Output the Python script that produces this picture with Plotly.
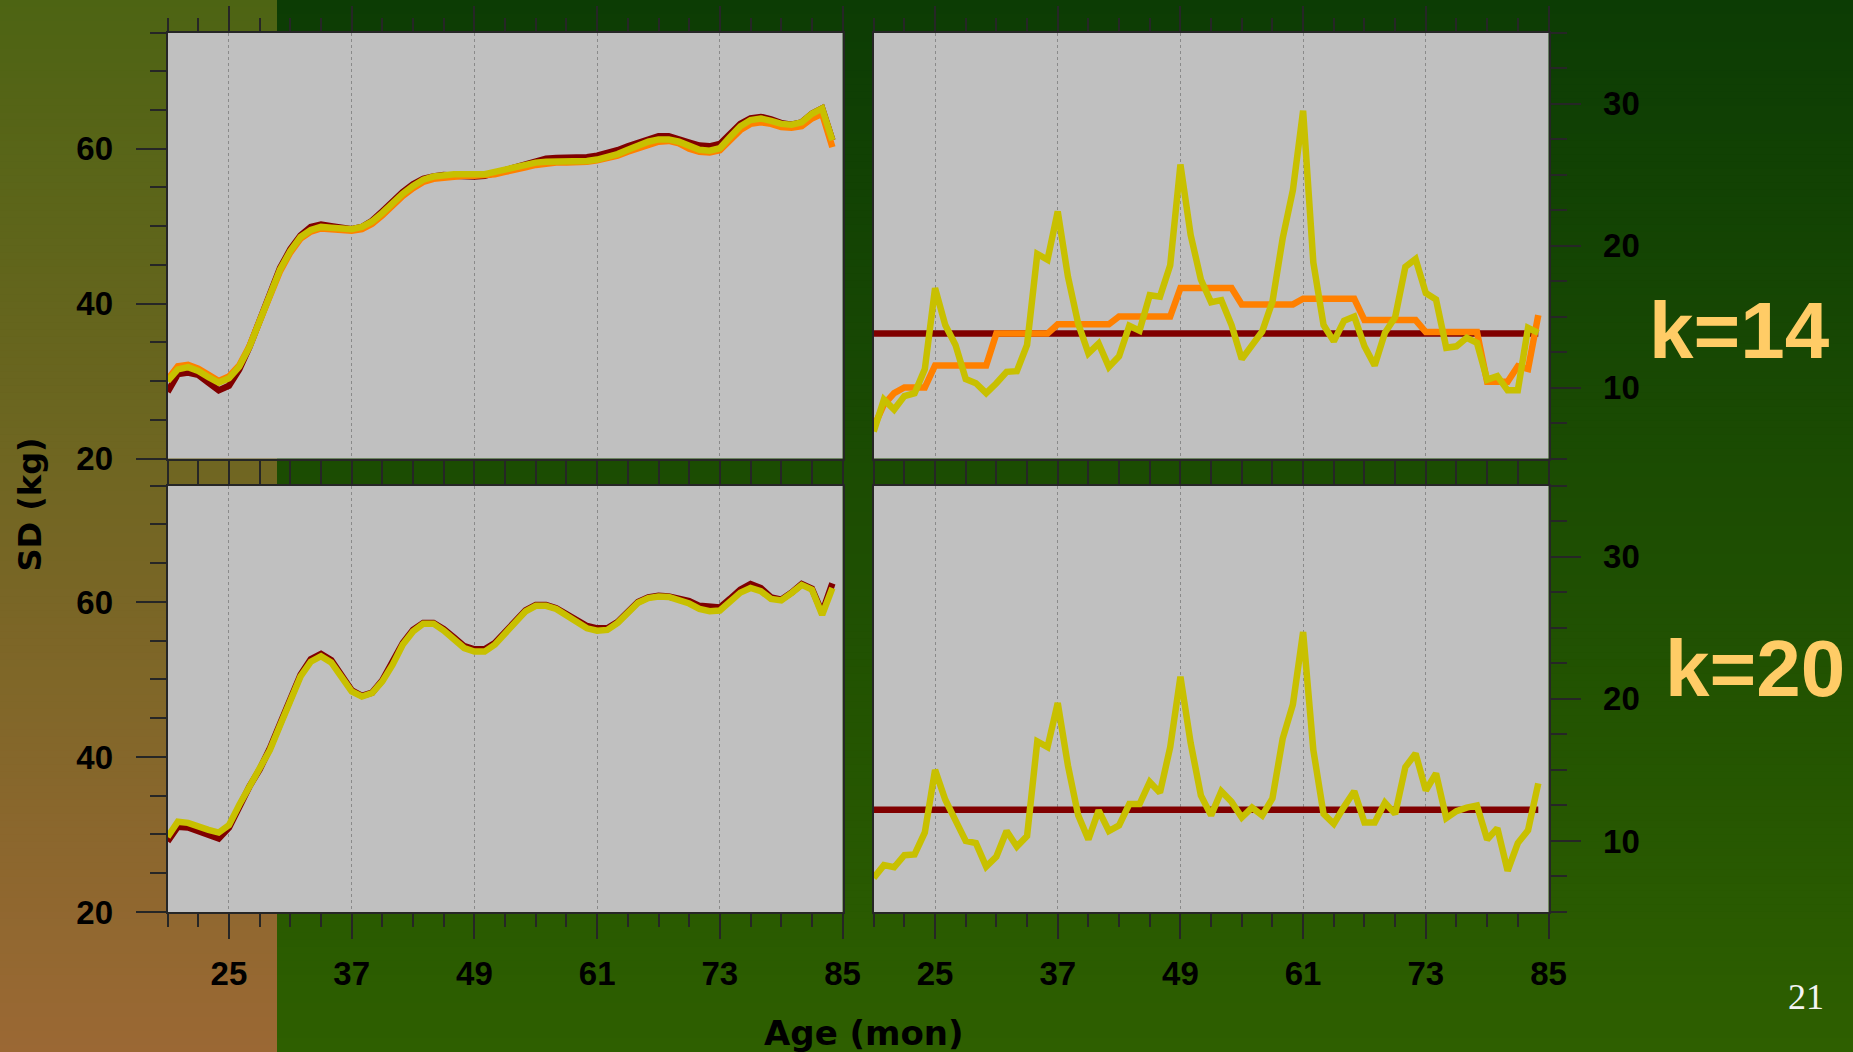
import plotly.graph_objects as go

# ---- data -------------------------------------------------------------
months = list(range(19, 85))

# k=14, SD of weight by age: three estimates
tl_red = [28.6, 30.9, 31.1, 30.8, 29.8, 28.8, 29.4, 31.5, 34.4, 38.0,
          41.5, 44.6, 47.0, 48.8, 49.9, 50.2, 50.0, 49.8, 49.6, 49.9,
          50.7, 51.9, 53.2, 54.4, 55.4, 56.1, 56.4, 56.6, 56.5, 56.4,
          56.4, 56.5, 56.9, 57.3, 57.6, 58.1, 58.5, 58.7, 58.8, 58.8,
          58.8, 58.9, 59.1, 59.4, 59.8, 60.3, 60.8, 61.3, 61.6, 61.6,
          61.3, 60.8, 60.4, 60.3, 60.6, 61.9, 63.2, 63.9, 64.1, 63.8,
          63.3, 63.1, 63.4, 64.5, 65.2, 61.1]
tl_orange = [30.2, 31.9, 32.1, 31.6, 30.8, 30.0, 30.6, 32.0, 34.5, 37.9,
             41.2, 44.2, 46.6, 48.4, 49.3, 49.7, 49.6, 49.5, 49.4, 49.6,
             50.3, 51.4, 52.7, 53.9, 54.9, 55.7, 56.1, 56.3, 56.4, 56.5,
             56.5, 56.5, 56.7, 57.0, 57.2, 57.6, 57.9, 58.1, 58.2, 58.2,
             58.2, 58.3, 58.5, 58.7, 59.1, 59.6, 60.1, 60.6, 60.9, 61.0,
             60.7, 60.0, 59.6, 59.5, 59.8, 61.1, 62.4, 63.2, 63.4, 63.2,
             62.8, 62.7, 62.9, 63.9, 64.5, 60.2]
tl_yellow = [30.0, 31.5, 31.8, 31.3, 30.5, 29.8, 30.35, 31.85, 34.4, 37.9,
             41.3, 44.4, 46.8, 48.6, 49.5, 49.9, 49.8, 49.7, 49.6, 49.9,
             50.6, 51.7, 53.0, 54.2, 55.2, 56.0, 56.4, 56.6, 56.7, 56.7,
             56.7, 56.7, 57.0, 57.35, 57.5, 57.9, 58.2, 58.3, 58.3, 58.3,
             58.3, 58.4, 58.6, 58.9, 59.3, 59.85, 60.4, 60.9, 61.2, 61.2,
             60.9, 60.3, 59.85, 59.75, 60.05, 61.5, 62.9, 63.7, 63.9, 63.6,
             63.2, 63.1, 63.4, 64.5, 65.2, 61.1]

# k=14, smoothing parameter by age
k14_level = 13.8
tr_orange = [7.2, 8.8, 9.6, 10.0, 10.0, 10.0, 11.55, 11.55, 11.55, 11.55,
             11.55, 11.55, 13.8, 13.8, 13.8, 13.8, 13.8, 13.8, 14.45, 14.45,
             14.45, 14.45, 14.45, 14.45, 15.0, 15.0, 15.0, 15.0, 15.0, 15.0,
             17.0, 17.0, 17.0, 17.0, 17.0, 17.0, 15.85, 15.85, 15.85, 15.85,
             15.85, 15.85, 16.25, 16.25, 16.25, 16.25, 16.25, 16.25, 14.75, 14.75,
             14.75, 14.75, 14.75, 14.75, 13.9, 13.9, 13.9, 13.9, 13.9, 13.9,
             10.4, 10.4, 10.4, 11.5, 11.3, 15.1]
tr_yellow = [6.9, 9.15, 8.45, 9.4, 9.6, 11.3, 17.0, 14.4, 13.0, 10.6,
             10.3, 9.6, 10.3, 11.1, 11.15, 13.0, 19.4, 19.0, 22.4, 17.8,
             14.5, 12.4, 13.1, 11.45, 12.2, 14.35, 14.0, 16.5, 16.4, 18.6,
             25.7, 20.75, 17.6, 16.0, 16.15, 14.4, 12.0, 13.0, 13.95, 16.05,
             20.5, 23.9, 29.5, 18.8, 14.4, 13.25, 14.7, 15.0, 12.9, 11.55,
             13.85, 14.95, 18.5, 19.05, 16.65, 16.2, 12.8, 12.9, 13.5, 13.15,
             10.55, 10.8, 9.8, 9.8, 14.2, 13.85]

# k=20, SD of weight by age
bl_red = [29.1, 31.0, 30.9, 30.5, 30.0, 29.5, 30.9, 33.7, 36.2, 38.4,
          41.1, 44.3, 47.6, 50.6, 52.6, 53.3, 52.5, 50.4, 48.6, 47.9,
          48.3, 49.9, 52.1, 54.7, 56.4, 57.3, 57.3, 56.5, 55.4, 54.3,
          53.9, 53.9, 54.7, 56.1, 57.7, 58.9, 59.6, 59.6, 59.2, 58.4,
          57.6, 56.9, 56.6, 56.6, 57.4, 58.7, 60.0, 60.6, 60.8, 60.7,
          60.5, 60.1, 59.5, 59.3, 59.3, 60.4, 61.6, 62.3, 61.8, 60.6,
          60.3, 61.2, 62.3, 61.7, 58.6, 62.4]
bl_yellow = [29.7, 31.65, 31.5, 31.0, 30.6, 30.25, 31.2, 33.8, 36.2, 38.3,
             40.9, 44.1, 47.4, 50.4, 52.3, 53.0, 52.2, 50.2, 48.45, 47.8,
             48.25, 49.75, 51.9, 54.5, 56.2, 57.2, 57.2, 56.3, 55.2, 54.05,
             53.6, 53.6, 54.5, 55.9, 57.5, 58.8, 59.5, 59.5, 59.1, 58.2,
             57.35, 56.6, 56.3, 56.4, 57.3, 58.6, 59.9, 60.5, 60.7, 60.65,
             60.3, 59.8, 59.1, 58.8, 58.9, 60.1, 61.2, 61.8, 61.4, 60.4,
             60.2, 61.15, 62.2, 61.6, 58.35, 61.8]

# k=20, smoothing parameter by age
k20_level = 12.2
br_yellow = [7.4, 8.3, 8.15, 9.0, 9.05, 10.6, 15.0, 12.9, 11.45, 10.0,
             9.85, 8.2, 8.9, 10.7, 9.6, 10.35, 17.0, 16.6, 19.7, 15.3,
             11.8, 10.1, 12.15, 10.7, 11.1, 12.6, 12.6, 14.15, 13.4, 16.6,
             21.55, 16.9, 13.2, 11.8, 13.5, 12.75, 11.65, 12.35, 11.8, 13.0,
             17.2, 19.6, 24.7, 16.4, 11.9, 11.2, 12.4, 13.5, 11.3, 11.3,
             12.7, 11.9, 15.2, 16.15, 13.55, 14.75, 11.6, 12.1, 12.35, 12.5,
             10.1, 10.9, 7.9, 9.85, 10.75, 14.05]

age_ticks = [25, 37, 49, 61, 73, 85]
sd_ticks = [20, 40, 60]
k_ticks = [10, 20, 30]

# ---- styling ----------------------------------------------------------
W, H = 1853, 1052
DARK_RED = "#800000"
ORANGE = "#ff8000"
YELLOW = "#c8c000"
PANEL = "#c0c0c0"
AXIS = "#262626"
LW = 6.5


def fx(p):
    return p / W


def fy(p):
    return 1 - p / H


left_dom = [fx(167.6), fx(842.6)]
right_dom = [fx(873.7), fx(1548.5)]
top_dom = [fy(458.5), fy(32.5)]
bot_dom = [fy(912.0), fy(485.7)]

fig = go.Figure()


def add_line(x, y, color, xa, ya):
    fig.add_trace(go.Scatter(x=x, y=y, mode="lines", xaxis=xa, yaxis=ya,
                             line=dict(color=color, width=LW),
                             showlegend=False, hoverinfo="skip"))


# top-left
add_line(months, tl_red, DARK_RED, "x", "y")
add_line(months, tl_orange, ORANGE, "x", "y")
add_line(months, tl_yellow, YELLOW, "x", "y")
# top-right
add_line([months[0], months[-1]], [k14_level, k14_level], DARK_RED, "x2", "y2")
add_line(months, tr_orange, ORANGE, "x2", "y2")
add_line(months, tr_yellow, YELLOW, "x2", "y2")
# bottom-left
add_line(months, bl_red, DARK_RED, "x3", "y3")
add_line(months, bl_yellow, YELLOW, "x3", "y3")
# bottom-right
add_line([months[0], months[-1]], [k20_level, k20_level], DARK_RED, "x4", "y4")
add_line(months, br_yellow, YELLOW, "x4", "y4")

tick_font = dict(family="Liberation Sans, Arial, sans-serif", size=33,
                 color="black", weight="bold")


def x_axis(domain, anchor, labels):
    return dict(domain=domain, anchor=anchor, range=[19, 85],
                tickmode="array", tickvals=age_ticks,
                ticktext=[str(v) for v in age_ticks],
                showticklabels=labels, tickfont=tick_font,
                ticks="outside", ticklen=25, tickwidth=1.5, tickcolor=AXIS,
                ticklabelstandoff=6,
                minor=dict(tick0=19, dtick=3, ticks="outside", ticklen=13,
                           tickwidth=1.5, tickcolor=AXIS, showgrid=False),
                showgrid=True, gridcolor="#8a8a8a", gridwidth=1, griddash="dot",
                showline=True, linecolor=AXIS, linewidth=2, mirror="allticks",
                zeroline=False, automargin=False, fixedrange=True)


def y_axis_sd(domain, anchor):
    return dict(domain=domain, anchor=anchor, range=[20, 75],
                tickmode="array", tickvals=sd_ticks,
                ticktext=[str(v) for v in sd_ticks],
                tickfont=tick_font, side="left",
                ticks="outside", ticklen=30, tickwidth=1.5, tickcolor=AXIS,
                ticklabelstandoff=16,
                minor=dict(tick0=20, dtick=5, ticks="outside", ticklen=16,
                           tickwidth=1.5, tickcolor=AXIS, showgrid=False),
                showgrid=False, showline=True, linecolor=AXIS, linewidth=2,
                mirror=True, zeroline=False, automargin=False, fixedrange=True)


def y_axis_k(domain, anchor):
    return dict(domain=domain, anchor=anchor, range=[5, 35],
                tickmode="array", tickvals=k_ticks,
                ticktext=[str(v) for v in k_ticks],
                tickfont=tick_font, side="right",
                ticks="outside", ticklen=30, tickwidth=1.5, tickcolor=AXIS,
                ticklabelstandoff=16,
                minor=dict(tick0=5, dtick=2.5, ticks="outside", ticklen=16,
                           tickwidth=1.5, tickcolor=AXIS, showgrid=False),
                showgrid=False, showline=True, linecolor=AXIS, linewidth=2,
                mirror=True, zeroline=False, automargin=False, fixedrange=True)


# ---- background: vertical colour ramps drawn as thin bands --------------
def mix(c0, c1, t):
    return "rgb({},{},{})".format(*[round(a + (b - a) * t) for a, b in zip(c0, c1)])


strip_right = fx(277)
left_top, left_bottom = (77, 100, 19), (155, 104, 52)
main_top, main_bottom = (12, 60, 4), (46, 95, 0)

shapes = []
n_bands = 150
for i in range(n_bands):
    t = (i + 0.5) / n_bands
    y_hi = 1 - i / n_bands
    y_lo = max(0.0, 1 - (i + 1.6) / n_bands)
    shapes.append(dict(type="rect", xref="paper", yref="paper", layer="below",
                       x0=0, x1=strip_right, y0=y_lo, y1=y_hi,
                       fillcolor=mix(left_top, left_bottom, t), line_width=0))
    shapes.append(dict(type="rect", xref="paper", yref="paper", layer="below",
                       x0=strip_right, x1=1, y0=y_lo, y1=y_hi,
                       fillcolor=mix(main_top, main_bottom, t), line_width=0))

# grey panel faces on top of the ramps
for xd in (left_dom, right_dom):
    for yd in (top_dom, bot_dom):
        shapes.append(dict(type="rect", xref="paper", yref="paper", layer="below",
                           x0=xd[0], x1=xd[1], y0=yd[0], y1=yd[1],
                           fillcolor=PANEL, line_width=0))

annotations = [
    dict(text="SD (kg)", x=fx(29.5), y=fy(505), xref="paper", yref="paper",
         textangle=-90, showarrow=False, xanchor="center", yanchor="middle",
         font=dict(family="DejaVu Sans", size=32, color="black", weight="bold")),
    dict(text="Age (mon)", x=fx(864), y=fy(1033), xref="paper", yref="paper",
         showarrow=False, xanchor="center", yanchor="middle",
         font=dict(family="DejaVu Sans", size=34, color="black", weight="bold")),
    dict(text="k=14", x=fx(1739), y=fy(330), xref="paper", yref="paper",
         showarrow=False, xanchor="center", yanchor="middle",
         font=dict(family="Liberation Sans, Arial, sans-serif", size=80,
                   color="#ffcc66", weight="bold")),
    dict(text="k=20", x=fx(1755), y=fy(668), xref="paper", yref="paper",
         showarrow=False, xanchor="center", yanchor="middle",
         font=dict(family="Liberation Sans, Arial, sans-serif", size=80,
                   color="#ffcc66", weight="bold")),
    dict(text="21", x=fx(1806), y=fy(997), xref="paper", yref="paper",
         showarrow=False, xanchor="center", yanchor="middle",
         font=dict(family="Liberation Serif, Times New Roman, serif", size=36,
                   color="#f4f4f4")),
]

fig.update_layout(
    width=W, height=H, autosize=False,
    margin=dict(l=0, r=0, t=0, b=0, pad=0, autoexpand=False),
    paper_bgcolor="#1d4d03", plot_bgcolor="rgba(0,0,0,0)",
    showlegend=False,
    xaxis=x_axis(left_dom, "y", False),
    yaxis=y_axis_sd(top_dom, "x"),
    xaxis2=x_axis(right_dom, "y2", False),
    yaxis2=y_axis_k(top_dom, "x2"),
    xaxis3=x_axis(left_dom, "y3", True),
    yaxis3=y_axis_sd(bot_dom, "x3"),
    xaxis4=x_axis(right_dom, "y4", True),
    yaxis4=y_axis_k(bot_dom, "x4"),
    shapes=shapes,
    annotations=annotations,
)

fig.write_html("out.html", config={"displayModeBar": False})
